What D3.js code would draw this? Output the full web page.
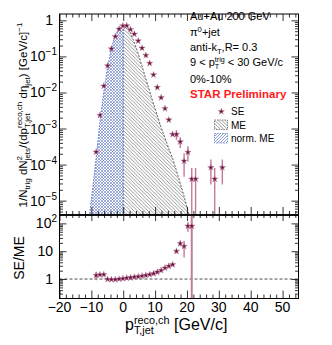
<!DOCTYPE html>
<html>
<head>
<meta charset="utf-8">
<script src="https://cdn.jsdelivr.net/npm/d3@7"></script>
<style>
body { margin: 0; background: #fff; }
svg { font-family: "Liberation Sans", Arial, Helvetica, sans-serif; }
</style>
</head>
<body>
<svg width="332" height="345"></svg>
<script>
// same-event spectrum (SE), stars
const seX = [-8.5,-7.3,-6.1,-4.9,-3.7,-2.5,-1.3,-0.1,1.1,2.3,3.5,4.7,5.9,7.1,8.3,9.5,10.7,11.9,13.1,14.3,15.5,16.7,17.9,19.1,20.3,21.5,22.7,27.5,28.7,31.1];
const seY = [2.24e-4,2.34e-3,1.51e-2,5.5e-2,0.162,0.355,0.575,0.71,0.71,0.56,0.417,0.269,0.17,0.107,0.0646,0.0309,0.0138,7.2e-3,3.6e-3,1.74e-3,6.9e-4,6.9e-4,4.3e-4,1.26e-4,2.2e-4,4.0e-5,4.0e-5,8.3e-5,4.0e-5,8.3e-5];
const seErr = [0,0,0,0,0,0,0,0,0,0,0,0,0,0,0,0,0,0,0,0,0.5e-4,2e-4,1.4e-4,0.8e-4,1.0e-4,4e-5,4e-5,5.5e-5,4e-5,5.5e-5];

// mixed-event (ME), black hatch, x >= 0
const meX = [0,1.1,2.3,3.5,4.7,5.9,7.1,8.3,9.5,10.7,11.9,13.1,14.3,15.5,16.7,17.9,19.1,20.3,21.5];
const meY = [0.724,0.692,0.447,0.24,0.12,0.0537,0.024,0.0107,4.9e-3,2.29e-3,1.07e-3,5.4e-4,2.8e-4,1.48e-4,6.8e-5,3.0e-5,1.32e-5,5.2e-6,2.0e-6];

// normalised ME, blue hatch, x <= 0
const normMeX = [-10.9,-9.7,-8.5,-7.3,-6.1,-4.9,-3.7,-2.5,-1.3,0];
const normMeY = [2.5e-6,1.78e-5,1.58e-4,1.58e-3,0.0105,0.0525,0.174,0.38,0.603,0.724];

// SE/ME ratio
const ratioX = [-8.5,-7.3,-6.1,-4.9,-3.7,-2.5,-1.3,-0.1,1.1,2.3,3.5,4.7,5.9,7.1,8.3,9.5,10.7,11.9,13.1,14.3,15.5,16.7,17.9,19.1,20.3,21.5];
const ratioY = [1.36,1.42,1.45,0.98,0.96,0.96,1.0,1.04,1.09,1.12,1.18,1.22,1.29,1.36,1.45,1.57,1.78,2.05,2.5,2.9,3.3,10,19,15,80,80];
const ratioErr = [0.45,0.12,0.1,0.03,0.02,0.02,0.02,0.02,0.02,0.02,0.03,0.03,0.03,0.04,0.05,0.06,0.08,0.1,0.15,0.2,0.3,1.5,4,9,30,150];

const xMajor = [-20,-10,0,10,20,30,40,50];
const topMajor = [1,1e-1,1e-2,1e-3,1e-4,1e-5];
const topLabels = [['1',''],['10','−1'],['10','−2'],['10','−3'],['10','−4'],['10','−5']];
const botMajor = [1,10,100];
const botLabels = [['1',''],['10',''],['10','2']];

const infoLines = ['Au+Au 200 GeV', 'π0+jet', 'anti-kT,R= 0.3', '9 < pT < 30 GeV/c', '0%-10%', 'STAR Preliminary'];

// rich text: parts [text, kind]; kind n | sup | sub | subu (sub stacked below previous sup)
function rich(sel, parts, fs, small, up) {
  let cur = 0, lastW = 0, pend = 0;
  parts.forEach(([t, k]) => {
    const target = k === 'sup' ? -(up || 0.4) * fs : (k === 'sub' || k === 'subu') ? 0.25 * fs : 0;
    const ts = sel.append('tspan')
      .attr('dy', target - cur)
      .attr('font-size', k === 'n' ? fs : fs * (small || 0.7))
      .text(t);
    const w = ts.node().getComputedTextLength();
    if (k === 'subu') {
      ts.attr('dx', -lastW);
      pend = Math.max(0, lastW - w);
    } else if (pend) {
      ts.attr('dx', pend);
      pend = 0;
    }
    cur = target;
    lastW = w;
  });
}

function whenLoaded() {
  const svg = d3.select('svg');
  const L = 59.5, R = 298.5, T = 14, M = 215, B = 298.5;

  const x = d3.scaleLinear().domain([-20, 55]).range([L, R]);
  const yTop = d3.scaleLog().domain([4e-6, 1.5]).range([M, T]);
  const yBot = d3.scaleLog().domain([0.2, 200]).range([B, M]);

  const defs = svg.append('defs');
  defs.append('pattern').attr('id', 'hatchMe').attr('patternUnits', 'userSpaceOnUse')
    .attr('width', 3.5).attr('height', 3.5)
    .append('path').attr('d', 'M-1,-1L4.5,4.5M-1,2.5L1,4.5M2.5,-1L4.5,1')
    .attr('stroke', '#555').attr('stroke-width', 0.6);
  const cross = defs.append('pattern').attr('id', 'hatchNorm').attr('patternUnits', 'userSpaceOnUse')
    .attr('width', 3).attr('height', 3);
  cross.append('path').attr('d', 'M-1,-1L4,4M-1,2L1,4M2,-1L4,1M-1,4L4,-1M-1,1L1,-1M2,4L4,2')
    .attr('stroke', '#5a74c4').attr('stroke-width', 0.6);
  defs.append('pattern').attr('id', 'hatchLeg').attr('patternUnits', 'userSpaceOnUse')
    .attr('width', 3).attr('height', 3)
    .append('path').attr('d', 'M-1,4L4,-1M-1,1L1,-1M2,4L4,2')
    .attr('stroke', '#5a74c4').attr('stroke-width', 0.7);
  defs.append('clipPath').attr('id', 'clipTop').append('rect')
    .attr('x', L).attr('y', T).attr('width', R - L).attr('height', M - T);
  defs.append('clipPath').attr('id', 'clipBot').append('rect')
    .attr('x', L).attr('y', M).attr('width', R - L).attr('height', B - M);

  // ---------- top panel ----------
  const gTop = svg.append('g').attr('clip-path', 'url(#clipTop)');
  const me = meX.map((v, i) => [v, meY[i]]);
  const norm = normMeX.map((v, i) => [v, normMeY[i]]);
  const area = d3.area().x(d => x(d[0])).y0(M).y1(d => yTop(d[1]));
  const line = d3.line().x(d => x(d[0])).y(d => yTop(d[1]));

  gTop.append('path').attr('d', area(me)).attr('fill', 'url(#hatchMe)');
  gTop.append('path').attr('d', line(me)).attr('fill', 'none')
    .attr('stroke', '#333').attr('stroke-width', 0.8).attr('stroke-dasharray', '2,1.5');
  gTop.append('path').attr('d', area(norm)).attr('fill', 'url(#hatchNorm)');
  gTop.append('path').attr('d', line(norm)).attr('fill', 'none')
    .attr('stroke', '#3e5cb0').attr('stroke-width', 0.8).attr('stroke-dasharray', '1.5,1.5');
  gTop.append('line').attr('x1', x(0)).attr('x2', x(0)).attr('y1', yTop(0.724)).attr('y2', M)
    .attr('stroke', '#3e5cb0').attr('stroke-width', 0.9).attr('stroke-dasharray', '2,1.5');

  const errCol = '#c27b9c', starCol = '#6e1242';
  const star = d3.symbol().type(d3.symbolStar).size(13);

  gTop.selectAll('line.err').data(seX.map((v, i) => i).filter(i => seErr[i] > 0))
    .enter().append('line').attr('class', 'err')
    .attr('x1', i => x(seX[i])).attr('x2', i => x(seX[i]))
    .attr('y1', i => yTop(seY[i] + seErr[i]))
    .attr('y2', i => yTop(Math.max(seY[i] - seErr[i], 1e-7)))
    .attr('stroke', errCol).attr('stroke-width', 1.4);
  gTop.selectAll('path.se').data(seX).enter().append('path').attr('class', 'se')
    .attr('d', star)
    .attr('transform', (v, i) => `translate(${x(v)},${yTop(seY[i])})`)
    .attr('fill', starCol).attr('stroke', '#c490ab').attr('stroke-width', 0.5);

  // ---------- bottom panel ----------
  const gBot = svg.append('g').attr('clip-path', 'url(#clipBot)');
  gBot.append('line').attr('x1', L).attr('x2', R).attr('y1', yBot(1)).attr('y2', yBot(1))
    .attr('stroke', '#000').attr('stroke-width', 0.7).attr('stroke-dasharray', '3,2');
  gBot.selectAll('line.err').data(ratioX).enter().append('line').attr('class', 'err')
    .attr('x1', d => x(d)).attr('x2', d => x(d))
    .attr('y1', (d, i) => yBot(ratioY[i] + ratioErr[i]))
    .attr('y2', (d, i) => yBot(Math.max(ratioY[i] - ratioErr[i], 0.05)))
    .attr('stroke', errCol).attr('stroke-width', (d, i) => i === ratioX.length - 1 ? 2 : 1.4);
  gBot.selectAll('path.r').data(ratioX).enter().append('path').attr('class', 'r')
    .attr('d', star)
    .attr('transform', (v, i) => `translate(${x(v)},${yBot(ratioY[i])})`)
    .attr('fill', starCol).attr('stroke', '#c490ab').attr('stroke-width', 0.5);

  // ---------- axes ----------
  const xMinor = d3.range(-20, 56, 2).filter(v => v % 10 !== 0);
  const logMinor = dom => {
    const out = [];
    for (let e = -7; e <= 3; e++) for (let k = 2; k <= 9; k++) {
      const v = k * Math.pow(10, e);
      if (v > dom[0] && v < dom[1]) out.push(v);
    }
    return out;
  };
  const axG = svg.append('g');
  function ticks(axis, tf, vals, len) {
    const g = axG.append('g').attr('transform', tf)
      .call(axis.tickValues(vals).tickSize(-len).tickFormat(''));
    g.select('.domain').remove();
    g.selectAll('line').attr('stroke', '#000').attr('stroke-width', 0.8);
  }
  // top panel
  ticks(d3.axisBottom(x), `translate(0,${M})`, xMajor, 8);
  ticks(d3.axisBottom(x), `translate(0,${M})`, xMinor, 4);
  ticks(d3.axisTop(x), `translate(0,${T})`, xMajor, 7);
  ticks(d3.axisTop(x), `translate(0,${T})`, xMinor, 3.5);
  ticks(d3.axisLeft(yTop), `translate(${L},0)`, topMajor, 7);
  ticks(d3.axisLeft(yTop), `translate(${L},0)`, logMinor(yTop.domain()), 3.5);
  ticks(d3.axisRight(yTop), `translate(${R},0)`, topMajor, 7);
  ticks(d3.axisRight(yTop), `translate(${R},0)`, logMinor(yTop.domain()), 3.5);
  // bottom panel
  ticks(d3.axisBottom(x), `translate(0,${B})`, xMajor, 8);
  ticks(d3.axisBottom(x), `translate(0,${B})`, xMinor, 4);
  ticks(d3.axisTop(x), `translate(0,${M})`, xMajor, 6);
  ticks(d3.axisTop(x), `translate(0,${M})`, xMinor, 3);
  ticks(d3.axisLeft(yBot), `translate(${L},0)`, botMajor, 7);
  ticks(d3.axisLeft(yBot), `translate(${L},0)`, logMinor(yBot.domain()), 3.5);
  ticks(d3.axisRight(yBot), `translate(${R},0)`, botMajor, 7);
  ticks(d3.axisRight(yBot), `translate(${R},0)`, logMinor(yBot.domain()), 3.5);

  // frames
  [[T, M], [M, B]].forEach(([a, b]) => {
    svg.append('rect').attr('x', L).attr('y', a).attr('width', R - L).attr('height', b - a)
      .attr('fill', 'none').attr('stroke', '#000').attr('stroke-width', 1);
  });
  svg.append('line').attr('x1', L).attr('x2', R).attr('y1', M).attr('y2', M)
    .attr('stroke', '#000').attr('stroke-width', 1.3);

  // tick labels
  const lab = svg.append('g').attr('font-size', 14).attr('fill', '#000');
  xMajor.forEach(v => {
    lab.append('text').attr('x', x(v)).attr('y', 312).attr('text-anchor', 'middle')
      .text(v < 0 ? '−' + (-v) : String(v));
  });
  function yLabel(scale, v, pair) {
    const t = lab.append('text').attr('x', pair[1] ? 57 : 53).attr('y', scale(v) + 5)
      .attr('text-anchor', 'end');
    t.append('tspan').text(pair[0]);
    if (pair[1]) t.append('tspan').attr('dy', -6).attr('font-size', 10).text(pair[1]);
  }
  topMajor.forEach((v, i) => yLabel(yTop, v, topLabels[i]));
  botMajor.forEach((v, i) => yLabel(yBot, v, botLabels[i]));

  // axis titles
  const yt = svg.append('text').attr('transform', 'translate(27,115) rotate(-90)')
    .attr('text-anchor', 'middle');
  rich(yt, [['1/N', 'n'], ['trig', 'sub'], [' dN', 'n'], ['2', 'sup'], ['jets', 'subu'],
    ['/(dp', 'n'], ['reco,ch', 'sup'], ['T,jet', 'subu'], [' dη', 'n'], ['jet', 'sub'],
    [') [GeV/c]', 'n'], ['−1', 'sup']], 11.5);

  svg.append('text').attr('transform', 'translate(24,258) rotate(-90)')
    .attr('text-anchor', 'middle').attr('font-size', 14).text('SE/ME');

  const xt = svg.append('text').attr('x', 125).attr('y', 329.5);
  rich(xt, [['p', 'n'], ['reco,ch', 'sup'], ['T,jet', 'subu'], [' [GeV/c]', 'n']], 16, 0.68, 0.33);

  // info block
  const info = svg.append('g').attr('font-size', 11);
  const ix = 190;
  const ys = [20, 36, 51, 66, 83, 98];
  rich(info.append('text').attr('x', ix).attr('y', ys[0]), [[infoLines[0], 'n']], 11);
  rich(info.append('text').attr('x', ix).attr('y', ys[1]), [['π', 'n'], ['0', 'sup'], ['+jet', 'n']], 11);
  rich(info.append('text').attr('x', ix).attr('y', ys[2]), [['anti-k', 'n'], ['T', 'sub'], [',R= 0.3', 'n']], 11);
  rich(info.append('text').attr('x', ix).attr('y', ys[3]),
    [['9 < p', 'n'], ['trig', 'sup'], ['T', 'subu'], [' < 30 GeV/c', 'n']], 11, 0.65, 0.35);
  rich(info.append('text').attr('x', ix).attr('y', ys[4]), [[infoLines[4], 'n']], 11);
  info.append('text').attr('x', ix).attr('y', ys[5]).attr('fill', '#ff1a1a')
    .attr('font-weight', 'bold').attr('font-size', 11.5).text(infoLines[5]);

  // legend
  const leg = svg.append('g').attr('font-size', 10);
  leg.append('path').attr('d', star).attr('transform', 'translate(221.3,111.5)')
    .attr('fill', starCol).attr('stroke', '#c490ab').attr('stroke-width', 0.5);
  leg.append('text').attr('x', 231).attr('y', 115).text('SE');
  leg.append('rect').attr('x', 214.5).attr('y', 120).attr('width', 13).attr('height', 9.5)
    .attr('fill', 'url(#hatchMe)').attr('stroke', '#555').attr('stroke-width', 0.7)
    .attr('stroke-dasharray', '1.5,1');
  leg.append('text').attr('x', 231).attr('y', 128.5).text('ME');
  leg.append('rect').attr('x', 214.5).attr('y', 133.5).attr('width', 13).attr('height', 9.5)
    .attr('fill', 'url(#hatchLeg)').attr('stroke', '#5a74c4').attr('stroke-width', 0.7)
    .attr('stroke-dasharray', '1.5,1');
  leg.append('text').attr('x', 231).attr('y', 142).text('norm. ME');
}

window.onload = whenLoaded;
</script>
</body>
</html>
